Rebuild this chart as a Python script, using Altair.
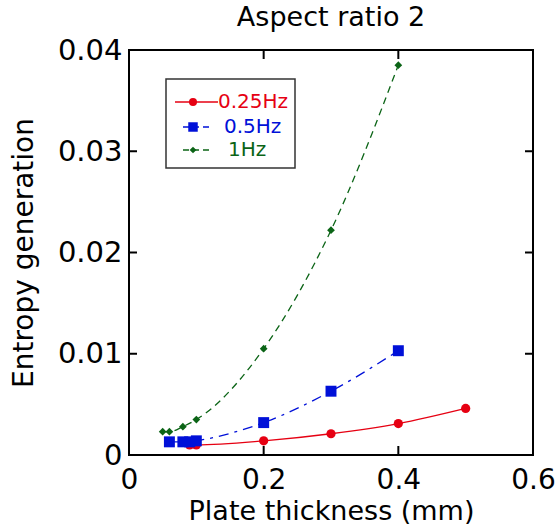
import altair as alt
import pandas as pd

# ---- data ----
series = ["0.25Hz", "0.5Hz", "1Hz"]
colors = ["#e60012", "#0010d8", "#0b6416"]
shapes = ["circle", "square", "diamond"]

x_025 = [0.09, 0.1, 0.2, 0.3, 0.4, 0.5]
y_025 = [0.0010, 0.0010, 0.0014, 0.0021, 0.0031, 0.0046]

x_05 = [0.06, 0.08, 0.09, 0.1, 0.2, 0.3, 0.4]
y_05 = [0.0013, 0.0013, 0.0013, 0.0014, 0.0032, 0.0063, 0.0103]

x_1 = [0.05, 0.06, 0.08, 0.1, 0.2, 0.3, 0.4]
y_1 = [0.0023, 0.0023, 0.0028, 0.0035, 0.0105, 0.0222, 0.0385]

x_ticks = [0, 0.2, 0.4, 0.6]
y_ticks = [0, 0.01, 0.02, 0.03, 0.04]
x_inner = [0.2, 0.4]
y_inner = [0.01, 0.02, 0.03]

title = "Aspect ratio 2"
x_title = "Plate thickness (mm)"
y_title = "Entropy generation"

FONT = "DejaVu Sans"
W, H = 404, 405

xs = alt.Scale(domain=[0, 0.6], nice=False, zero=False)
ys = alt.Scale(domain=[0, 0.04], nice=False, zero=False)

x_axis = alt.Axis(values=x_ticks, format="~g", labelFontSize=28, labelFont=FONT,
                  labelColor="black", labelPadding=11, labelFlush=False,
                  ticks=False, domain=False, grid=False,
                  title=x_title, titleFont=FONT, titleFontSize=27,
                  titleFontWeight="normal", titleColor="black",
                  titleBaseline="alphabetic", titleY=64)
y_axis = alt.Axis(values=y_ticks, format="~g", labelFontSize=29, labelFont=FONT,
                  labelColor="black", labelPadding=7, labelFlush=False,
                  ticks=False, domain=False, grid=False,
                  title=y_title, titleFont=FONT, titleFontSize=28,
                  titleFontWeight="normal", titleColor="black",
                  titleBaseline="alphabetic", titleX=-97)

layers = []

# axes carrier (invisible)
axis_df = pd.DataFrame({"x": x_ticks[:2], "y": y_ticks[:2]})
layers.append(alt.Chart(axis_df).mark_point(opacity=0).encode(
    x=alt.X("x:Q", scale=xs, axis=x_axis),
    y=alt.Y("y:Q", scale=ys, axis=y_axis)))

# inward ticks
xt = pd.DataFrame({"v": x_inner})
yt = pd.DataFrame({"v": y_inner})
layers.append(alt.Chart(xt).mark_rule(color="black", strokeWidth=2).encode(
    x=alt.X("v:Q", scale=xs, axis=None), y=alt.value(H), y2=alt.value(H - 9)))
layers.append(alt.Chart(xt).mark_rule(color="black", strokeWidth=2).encode(
    x=alt.X("v:Q", scale=xs, axis=None), y=alt.value(0), y2=alt.value(9)))
layers.append(alt.Chart(yt).mark_rule(color="black", strokeWidth=2).encode(
    y=alt.Y("v:Q", scale=ys, axis=None), x=alt.value(0), x2=alt.value(8)))
layers.append(alt.Chart(yt).mark_rule(color="black", strokeWidth=2).encode(
    y=alt.Y("v:Q", scale=ys, axis=None), x=alt.value(W), x2=alt.value(W - 8)))

dashes = [None, [10, 6, 3, 6], [7, 5]]
sizes = [85, 120, 60]
data = [(x_025, y_025), (x_05, y_05), (x_1, y_1)]

for (xv, yv), col, shp, dash, sz in zip(data, colors, shapes, dashes, sizes):
    df = pd.DataFrame({"x": xv, "y": yv})
    base = alt.Chart(df).encode(x=alt.X("x:Q", scale=xs, axis=None),
                                y=alt.Y("y:Q", scale=ys, axis=None))
    lkw = dict(color=col, strokeWidth=1.3, interpolate="monotone")
    if dash:
        lkw["strokeDash"] = dash
    layers.append(base.mark_line(**lkw))
    layers.append(base.mark_point(shape=shp, filled=True, color=col, size=sz, opacity=1))

# legend
one = pd.DataFrame({"a": [0]})
layers.append(alt.Chart(one).mark_rect(fill="white", stroke="#333333", strokeWidth=1.5).encode(
    x=alt.value(37), x2=alt.value(166), y=alt.value(29), y2=alt.value(118)))
row_y = [52, 77, 100]
line_x = [(46, 89), (54, 83), (54, 83)]
text_x = [89, 95, 99]
leg_sizes = [65, 90, 45]
for name, col, shp, dash, ry, (lx1, lx2), tx, ls in zip(series, colors, shapes, dashes,
                                                       row_y, line_x, text_x, leg_sizes):
    rkw = dict(color=col, strokeWidth=1.3)
    if dash:
        rkw["strokeDash"] = [6, 4]
    layers.append(alt.Chart(one).mark_rule(**rkw).encode(
        x=alt.value(lx1), x2=alt.value(lx2), y=alt.value(ry)))
    layers.append(alt.Chart(one).mark_point(shape=shp, filled=True, color=col, size=ls, opacity=1).encode(
        x=alt.value(64), y=alt.value(ry)))
    layers.append(alt.Chart(one).mark_text(text=name, color=col, font=FONT, fontSize=20,
                                           align="left", baseline="middle").encode(
        x=alt.value(tx), y=alt.value(ry)))

chart = alt.layer(*layers).resolve_axis(x="independent", y="independent").properties(
    width=W, height=H,
    title=alt.TitleParams(title, font=FONT, fontSize=27, fontWeight="normal",
                          color="black", anchor="middle"),
    autosize=alt.AutoSizeParams(type="none"),
    padding={"left": 129, "top": 50, "right": 24, "bottom": 72},
    background="white",
).configure_view(stroke="black", strokeWidth=2)

chart.save("out.html", embed_options={"renderer": "svg", "actions": False})
